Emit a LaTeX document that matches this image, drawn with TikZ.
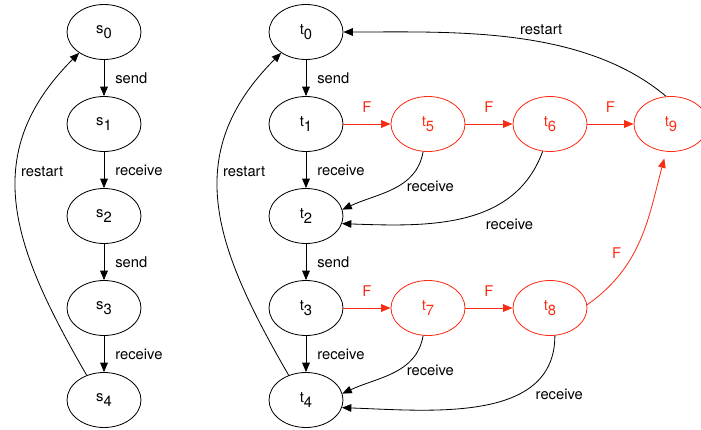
\documentclass[tikz,border=0pt]{standalone}
\usepackage{fontspec}
\setmainfont{TeX Gyre Heros}
\usetikzlibrary{shapes.geometric}
\usetikzlibrary{arrows.meta}
\definecolor{fred}{RGB}{250,45,20}
\newcommand{\sn}[2]{#1\raisebox{-0.6ex}{#2}}

\begin{document}
\begin{tikzpicture}[node distance={27.6mm}, line width=0.7pt, >={Triangle[length=8pt,width=6.5pt]},
    every node/.style = {font=\fontsize{12.6}{14}\selectfont},
    main/.style = {draw, ellipse, minimum width=22.2mm, minimum height=16.5mm, inner sep=0pt},
    fail/.style = {main, draw=fred, text=fred}]
    \useasboundingbox (0,0) rectangle (21.03,-12.9);
    \node[main] (s0) at (3.12,-0.96) {\sn{s}{0}};
    \node[main] (s1) [below of=s0] {\sn{s}{1}};
    \node[main] (s2) [below of=s1] {\sn{s}{2}};
    \node[main] (s3) [below of=s2] {\sn{s}{3}};
    \node[main] (s4) [below of=s3] {\sn{s}{4}};
    \node[main] (t0) [right of=s0, node distance=60.6mm] {\sn{t}{0}};
    \node[main] (t1) [below of=t0] {\sn{t}{1}};
    \node[main] (t2) [below of=t1] {\sn{t}{2}};
    \node[main] (t3) [below of=t2] {\sn{t}{3}};
    \node[main] (t4) [below of=t3] {\sn{t}{4}};
    \node[fail] (t5) [right of=t1, node distance=36.6mm] {\sn{t}{5}};
    \node[fail] (t6) [right of=t5, node distance=36.6mm] {\sn{t}{6}};
    \node[fail] (t9) [right of=t6, node distance=36.3mm] {\sn{t}{9}};
    \node[fail] (t7) [right of=t3, node distance=36.6mm] {\sn{t}{7}};
    \node[fail] (t8) [right of=t7, node distance=36.6mm] {\sn{t}{8}};
    % first protocol
    \draw[->] (s0) -- node[right=6pt] {send} (s1);
    \draw[->] (s1) -- node[right=6pt] {receive} (s2);
    \draw[->] (s2) -- node[right=6pt] {send} (s3);
    \draw[->] (s3) -- node[right=6pt] {receive} (s4);
    \draw[->] (s4.125) to[out=120, in=225, looseness=1.15] node[pos=0.61, right=0pt] {restart} (s0.220);
    % second protocol
    \draw[->] (t0) -- node[right=6pt] {send} (t1);
    \draw[->] (t1) -- node[right=6pt] {receive} (t2);
    \draw[->] (t2) -- node[right=6pt] {send} (t3);
    \draw[->] (t3) -- node[right=6pt] {receive} (t4);
    \draw[->] (t4.125) to[out=120, in=225, looseness=1.15] node[pos=0.61, right=0pt] {restart} (t0.220);
    \draw[->, fred] (t1) -- node[above=6pt] {F} (t5);
    \draw[->, fred] (t5) -- node[above=6pt] {F} (t6);
    \draw[->, fred] (t6) -- node[above=6pt] {F} (t9);
    \draw[->, fred] (t3) -- node[above=6pt] {F} (t7);
    \draw[->, fred] (t7) -- node[above=6pt] {F} (t8);
    \draw[->, fred, shorten >=6pt] (t8.5) to[out=35, in=-105] node[pos=0.4, left=7pt] {F} (t9.-100);
    \draw[->] (t5.-100) to[out=-100, in=25] node[pos=0.45, right=4pt] {receive} (t2.10);
    \draw[->] (t6.-105) to[out=-110, in=-2] node[pos=0.3, anchor=north, xshift=6pt, yshift=-11pt] {receive} (t2.-12);
    \draw[->] (t7.-100) to[out=-100, in=25] node[pos=0.45, right=4pt] {receive} (t4.10);
    \draw[->] (t8.-80) to[out=-90, in=-2] node[pos=0.22, anchor=north west, xshift=-6pt, yshift=-4pt] {receive} (t4.-12);
    \draw[->] (t9.100) to[out=140, in=0, looseness=0.85] node[pos=0.42, above=3pt] {restart} (t0);
\end{tikzpicture}
\end{document}
